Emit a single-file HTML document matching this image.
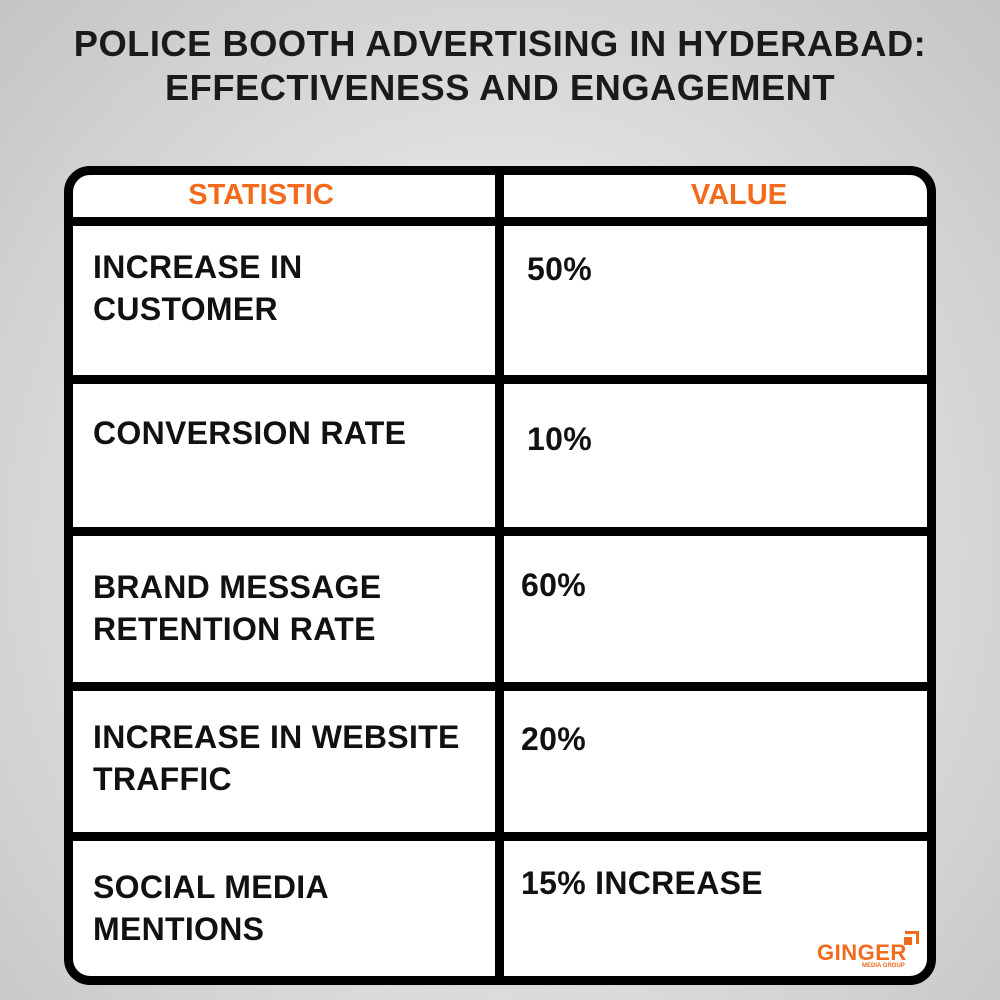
<!DOCTYPE html>
<html><head><style>
body{margin:0;width:1000px;height:1000px;overflow:hidden;background:radial-gradient(ellipse at 50% 55%,#f2f2f2 0%,#e2e2e2 45%,#c4c4c4 100%);font-family:"Liberation Sans",sans-serif;font-weight:bold;position:relative}
.t{position:absolute;left:0;width:1000px;text-align:center;font-size:36.3px;color:#1a1a1a;letter-spacing:0.5px}
.tb{position:absolute;left:64px;top:166px;width:854px;height:801px;border:9px solid #000;border-radius:26px;background:#fff}
.h{position:absolute;background:#000;left:64px;width:872px;height:9px}
.v{position:absolute;background:#000;left:495px;top:175px;width:9px;height:802px}
.x{position:absolute;font-size:32px;color:#111;line-height:42px;letter-spacing:0.3px}
.o{position:absolute;font-size:29px;color:#f26a1b;text-align:center;width:300px}
</style></head><body>
<div class="t" style="top:23px">POLICE BOOTH ADVERTISING IN HYDERABAD:</div>
<div class="t" style="top:67px">EFFECTIVENESS AND ENGAGEMENT</div>
<div class="tb"></div>
<div class="h" style="top:217px"></div>
<div class="h" style="top:375px"></div>
<div class="h" style="top:527px"></div>
<div class="h" style="top:682px"></div>
<div class="h" style="top:832px"></div>
<div class="v"></div>
<div class="o" style="left:111px;top:179px">STATISTIC</div>
<div class="o" style="left:589px;top:179px">VALUE</div>
<div class="x" style="left:93px;top:246px">INCREASE IN<br>CUSTOMER</div>
<div class="x" style="left:527px;top:248px">50%</div>
<div class="x" style="left:93px;top:412px">CONVERSION RATE</div>
<div class="x" style="left:527px;top:418px">10%</div>
<div class="x" style="left:93px;top:566px">BRAND MESSAGE<br>RETENTION RATE</div>
<div class="x" style="left:521px;top:564px">60%</div>
<div class="x" style="left:93px;top:716px">INCREASE IN WEBSITE<br>TRAFFIC</div>
<div class="x" style="left:521px;top:718px">20%</div>
<div class="x" style="left:93px;top:866px">SOCIAL MEDIA<br>MENTIONS</div>
<div class="x" style="left:521px;top:862px">15% INCREASE</div>
<div style="position:absolute;left:817px;top:940px;font-size:22px;color:#f26a1b;letter-spacing:0.5px">GINGER</div>
<div style="position:absolute;left:862px;top:963px;font-size:6px;color:#f26a1b">MEDIA GROUP</div>
<div style="position:absolute;left:905px;top:931px;width:14px;height:13px;border-top:3px solid #f26a1b;border-right:3px solid #f26a1b;box-sizing:border-box"></div>
<div style="position:absolute;left:904px;top:937px;width:8px;height:8px;background:#f26a1b"></div>
</body></html>
